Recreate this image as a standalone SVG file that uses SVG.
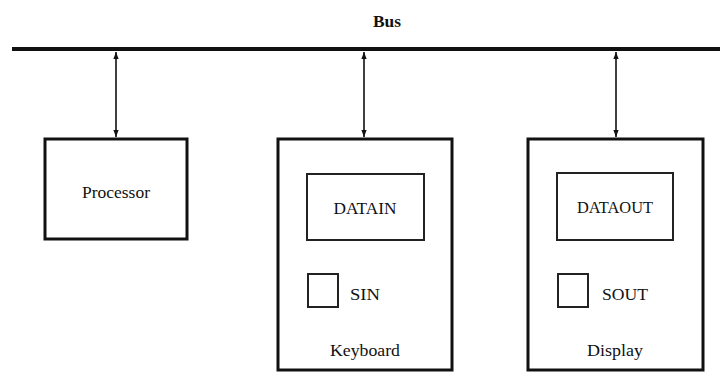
<svg xmlns="http://www.w3.org/2000/svg" width="720" height="374" viewBox="0 0 720 374">
<defs>
<marker id="ah" viewBox="0 0 8 8" refX="8" refY="4" markerWidth="7" markerHeight="8" markerUnits="userSpaceOnUse" orient="auto-start-reverse">
<path d="M0,1 L8,4 L0,7 Z" fill="#111"/>
</marker>
</defs>
<style>
.outer{fill:#fff;stroke:#111;stroke-width:3}
.inner{fill:#fff;stroke:#222;stroke-width:2}
.t{font-family:"Liberation Serif","Times New Roman",serif;font-size:17px;fill:#111}
.c{text-anchor:middle}
.conn{stroke:#111;stroke-width:1.6;fill:none}
</style>
<rect width="720" height="374" fill="#fff"/>
<g id="bus">
<line x1="12" y1="49" x2="720" y2="49" stroke="#111" stroke-width="4"/>
<text class="t c" x="387" y="27" font-weight="bold" font-size="15" textLength="28" lengthAdjust="spacingAndGlyphs">Bus</text>
</g>
<g id="connectors">
<line class="conn" x1="116" y1="52" x2="116" y2="137" marker-start="url(#ah)" marker-end="url(#ah)"/>
<line class="conn" x1="364" y1="52" x2="364" y2="137" marker-start="url(#ah)" marker-end="url(#ah)"/>
<line class="conn" x1="616" y1="52" x2="616" y2="137" marker-start="url(#ah)" marker-end="url(#ah)"/>
</g>
<g id="processor">
<rect class="outer" x="45" y="139" width="142" height="100"/>
<text class="t c" x="116" y="198" textLength="68" lengthAdjust="spacingAndGlyphs">Processor</text>
</g>
<g id="keyboard">
<rect class="outer" x="278" y="139" width="174" height="231"/>
<rect class="inner" x="307" y="174" width="117" height="66"/>
<text class="t c" x="365" y="214" textLength="63" lengthAdjust="spacingAndGlyphs">DATAIN</text>
<rect class="inner" x="308" y="274" width="30" height="33"/>
<text class="t" x="350" y="300" textLength="30" lengthAdjust="spacingAndGlyphs">SIN</text>
<text class="t c" x="365" y="356" textLength="70" lengthAdjust="spacingAndGlyphs">Keyboard</text>
</g>
<g id="display">
<rect class="outer" x="528" y="139" width="175" height="231"/>
<rect class="inner" x="557" y="173" width="116" height="67"/>
<text class="t c" x="615" y="213" textLength="76" lengthAdjust="spacingAndGlyphs">DATAOUT</text>
<rect class="inner" x="558" y="274" width="30" height="33"/>
<text class="t" x="602" y="300" textLength="46" lengthAdjust="spacingAndGlyphs">SOUT</text>
<text class="t c" x="615" y="356" textLength="56" lengthAdjust="spacingAndGlyphs">Display</text>
</g>
</svg>
